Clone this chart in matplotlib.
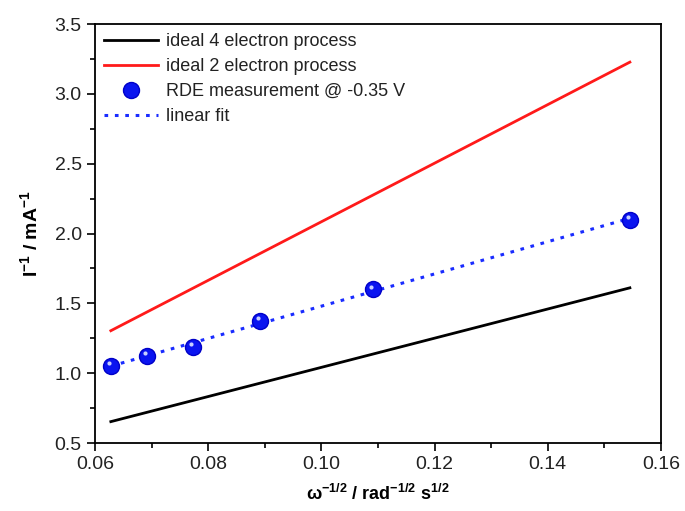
import numpy as np
import matplotlib.pyplot as plt
from matplotlib.ticker import MultipleLocator
from matplotlib.transforms import ScaledTranslation

plt.rcParams['font.family'] = ['Liberation Sans', 'DejaVu Sans']
plt.rcParams['mathtext.fontset'] = 'custom'
plt.rcParams['mathtext.rm'] = 'Liberation Sans'
plt.rcParams['mathtext.bf'] = 'Liberation Sans:bold'
plt.rcParams['mathtext.it'] = 'Liberation Sans:italic'

# Koutecky-Levich data
omega_inv_sqrt = [0.0628, 0.0692, 0.0773, 0.0892, 0.1091, 0.1545]
i_inv_rde = [1.053, 1.123, 1.19, 1.375, 1.60, 2.10]

ideal_x = [0.0628, 0.1545]
ideal_4e = [0.653, 1.611]
ideal_2e = [1.304, 3.227]

slope, intercept = np.polyfit(omega_inv_sqrt, i_inv_rde, 1)
fit_x = np.array([omega_inv_sqrt[0], omega_inv_sqrt[-1]])
fit_y = slope * fit_x + intercept

fig = plt.figure(figsize=(6.85, 5.11), dpi=100)
ax = fig.add_axes([95 / 685, 68 / 511, 566 / 685, 419 / 511])

ax.plot(ideal_x, ideal_4e, color='black', lw=2, label='ideal 4 electron process')
ax.plot(ideal_x, ideal_2e, color='#ff1a1a', lw=2, label='ideal 2 electron process')
ax.plot(omega_inv_sqrt, i_inv_rde, 'o', color='#0a14f0', mec='#0000c8', ms=11.5,
        label='RDE measurement @ -0.35 V', zorder=4)
ax.plot(fit_x, fit_y, color='#1a2cff', lw=2.2, ls=(0, (1.2, 2.2)), label='linear fit', zorder=3)

# small highlight on each sphere
shift = ScaledTranslation(-1.5 / 72, 2 / 72, fig.dpi_scale_trans)
ax.plot(omega_inv_sqrt, i_inv_rde, 'o', color='#c8d0ff', ms=3, mew=0,
        transform=ax.transData + shift, zorder=5)

ax.set_xlim(0.06, 0.16)
ax.set_ylim(0.5, 3.5)
ax.xaxis.set_major_locator(MultipleLocator(0.02))
ax.xaxis.set_minor_locator(MultipleLocator(0.01))
ax.yaxis.set_major_locator(MultipleLocator(0.5))
ax.yaxis.set_minor_locator(MultipleLocator(0.25))
ax.xaxis.set_major_formatter(plt.FuncFormatter(lambda v, p: f'{v:.2f}'))
ax.yaxis.set_major_formatter(plt.FuncFormatter(lambda v, p: f'{v:.1f}'))
ax.tick_params(which='both', direction='out', width=1.2, labelsize=14, top=False, right=False,
               labelcolor='#222222')
ax.tick_params(which='major', length=6)
ax.tick_params(which='minor', length=3.5)
for sp in ax.spines.values():
    sp.set_linewidth(1.3)

ax.set_xlabel(r'$\mathbf{\omega^{-1/2}}$ / rad$^{\mathbf{-1/2}}$ s$^{\mathbf{1/2}}$',
              fontsize=13, fontweight='bold', labelpad=8)
ax.set_ylabel(r'I$^{\mathbf{-1}}$ / mA$^{\mathbf{-1}}$', fontsize=14, fontweight='bold', labelpad=10)

leg = ax.legend(loc='upper left', frameon=False, fontsize=13, handlelength=3.0, handletextpad=0.45,
                labelspacing=0.45, borderaxespad=0.3, borderpad=0.2)
for t in leg.get_texts():
    t.set_color('#222222')

fig.savefig('out.png', dpi=100)
